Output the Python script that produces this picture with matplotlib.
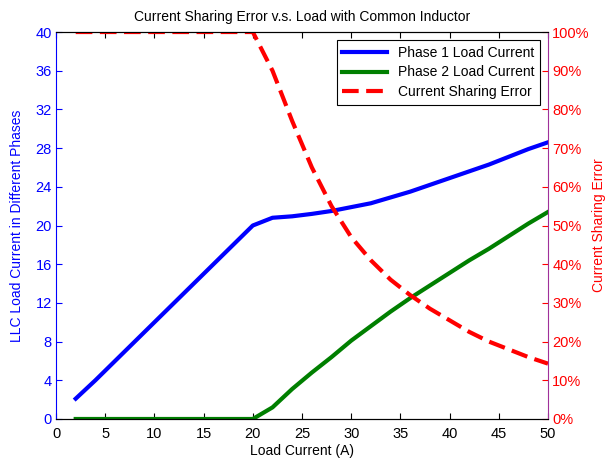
import matplotlib
matplotlib.use("Agg")
import matplotlib.pyplot as plt
from matplotlib.ticker import FuncFormatter

plt.rcParams['font.family'] = ['Liberation Sans', 'DejaVu Sans']

# load current (A)
load = [2, 4, 6, 8, 10, 12, 14, 16, 18, 20, 22, 24, 26, 28, 30,
        32, 34, 36, 38, 40, 42, 44, 46, 48, 50]
phase1 = [2.1, 4.0, 6.0, 8.0, 10.0, 12.0, 14.0, 16.0, 18.0, 20.0, 20.8, 20.95, 21.2, 21.5, 21.9,
          22.3, 22.9, 23.5, 24.2, 24.9, 25.6, 26.3, 27.1, 27.9, 28.6]
phase2 = [0, 0, 0, 0, 0, 0, 0, 0, 0, 0, 1.2, 3.1, 4.8, 6.4, 8.1,
          9.6, 11.1, 12.5, 13.8, 15.1, 16.4, 17.6, 18.9, 20.2, 21.4]
error = [100, 100, 100, 100, 100, 100, 100, 100, 100, 100, 90, 77, 65, 55, 47,
         41, 36, 32, 28.5, 25.5, 22.5, 20, 18, 16, 14.3]

fig = plt.figure(figsize=(6.05, 4.62), dpi=100)
ax = fig.add_axes([0.0926, 0.0931, 0.8132, 0.8376])
ax2 = ax.twinx()

l1, = ax.plot(load, phase1, color='#0000ff', lw=3, label='Phase 1 Load Current')
l2, = ax.plot(load, phase2, color='#007f00', lw=3, label='Phase 2 Load Current')
l3, = ax2.plot(load, error, color='#ff0000', lw=3, ls=(0, (4, 1.8)), label='Current Sharing Error')

ax.set_xlim(0, 50)
ax.set_ylim(0, 40)
ax.set_xticks(range(0, 51, 5))
ax.set_yticks(range(0, 41, 4))
ax2.set_ylim(0, 100)
ax2.set_yticks(range(0, 101, 10))
ax2.yaxis.set_major_formatter(FuncFormatter(lambda v, p: '%d%%' % v))

ax.tick_params(axis='x', direction='in', top=True, labelsize=10.5, length=4, pad=6)
ax.tick_params(axis='y', direction='in', colors='#0000ff', labelsize=10.5, length=4, pad=3)
ax2.tick_params(axis='y', direction='in', colors='#ff0000', labelsize=10.5, length=4, pad=3)

ax.spines['left'].set_color('#0000ff')
ax2.spines['left'].set_visible(False)
ax.spines['right'].set_visible(False)
ax2.spines['right'].set_color('#a0309a')

ax.set_xlabel('Load Current (A)', fontsize=10, labelpad=2)
ax.set_ylabel('LLC Load Current in Different Phases', fontsize=10, color='#0000ff', labelpad=8)
ax2.set_ylabel('Current Sharing Error', fontsize=10, color='#ff0000', labelpad=2)
ax.set_title('Current Sharing Error v.s. Load with Common Inductor', fontsize=10, pad=8)

leg = ax2.legend(handles=[l1, l2, l3], loc='upper right', fontsize=10, fancybox=False,
                 framealpha=1, edgecolor='black', handlelength=3.2, borderaxespad=0.6,
                 labelspacing=0.4)
leg.get_frame().set_linewidth(0.8)

fig.savefig('out.png', dpi=100)
